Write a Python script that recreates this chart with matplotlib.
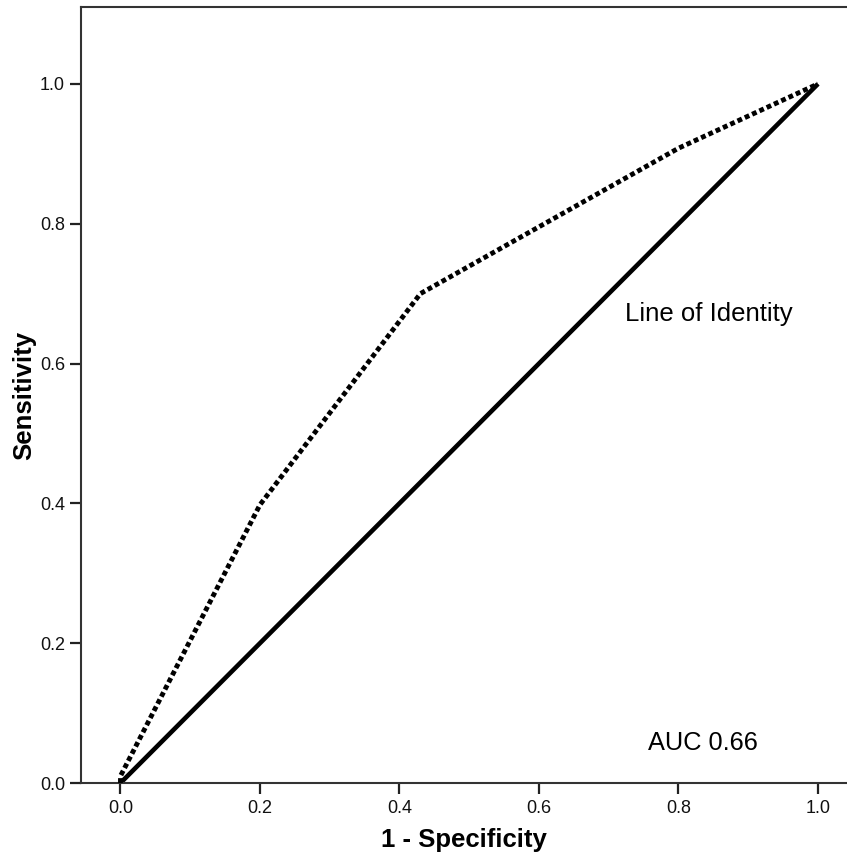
import matplotlib
matplotlib.use("Agg")
import matplotlib.pyplot as plt

# ROC curve data (1 - specificity, sensitivity)
fpr = [0.0, 0.0, 0.2, 0.43, 0.8, 1.0]
tpr = [0.0, 0.01, 0.398, 0.70, 0.908, 1.0]
identity = [0.0, 1.0]
xticks = [0.0, 0.2, 0.4, 0.6, 0.8, 1.0]
yticks = [0.0, 0.2, 0.4, 0.6, 0.8, 1.0]
auc_text = "AUC 0.66"
identity_text = "Line of Identity"

plt.rcParams['font.family'] = ['Liberation Sans', 'DejaVu Sans']

fig = plt.figure(figsize=(8.47, 8.59), dpi=100)
ax = fig.add_axes([81/847, 76/859, 1 - 81/847, (783-7)/859])

ax.plot(identity, identity, color='black', lw=3.3, solid_capstyle='butt', zorder=2)
ax.plot(fpr, tpr, color='black', lw=3.5, linestyle=(0, (1, 0.65)),
        dash_capstyle='butt', zorder=3)

ax.set_xlim(-0.0566, 1.0416)
ax.set_ylim(0, 1.110)

ax.set_xticks(xticks)
ax.set_yticks(yticks)
ax.set_xticklabels([f"{v:.1f}" for v in xticks])
ax.set_yticklabels([f"{v:.1f}" for v in yticks])
ax.tick_params(axis='both', direction='out', length=8, width=1.6,
               labelsize=13, color='#222222', labelcolor='#111111')
ax.tick_params(axis='x', pad=4)
ax.tick_params(axis='y', pad=3.5)

for side in ['left', 'top', 'bottom']:
    ax.spines[side].set_linewidth(1.5)
    ax.spines[side].set_color('#333333')
ax.spines['right'].set_visible(False)

ax.set_xlabel("1 - Specificity", fontsize=18.5, fontweight='bold', labelpad=8)
ax.set_ylabel("Sensitivity", fontsize=18.5, fontweight='bold', labelpad=3)

ax.text(0.723, 0.661, identity_text, fontsize=18.5, va='baseline', ha='left')
ax.text(0.756, 0.047, auc_text, fontsize=18.3, va='baseline', ha='left')

fig.savefig("out.png", dpi=100)
